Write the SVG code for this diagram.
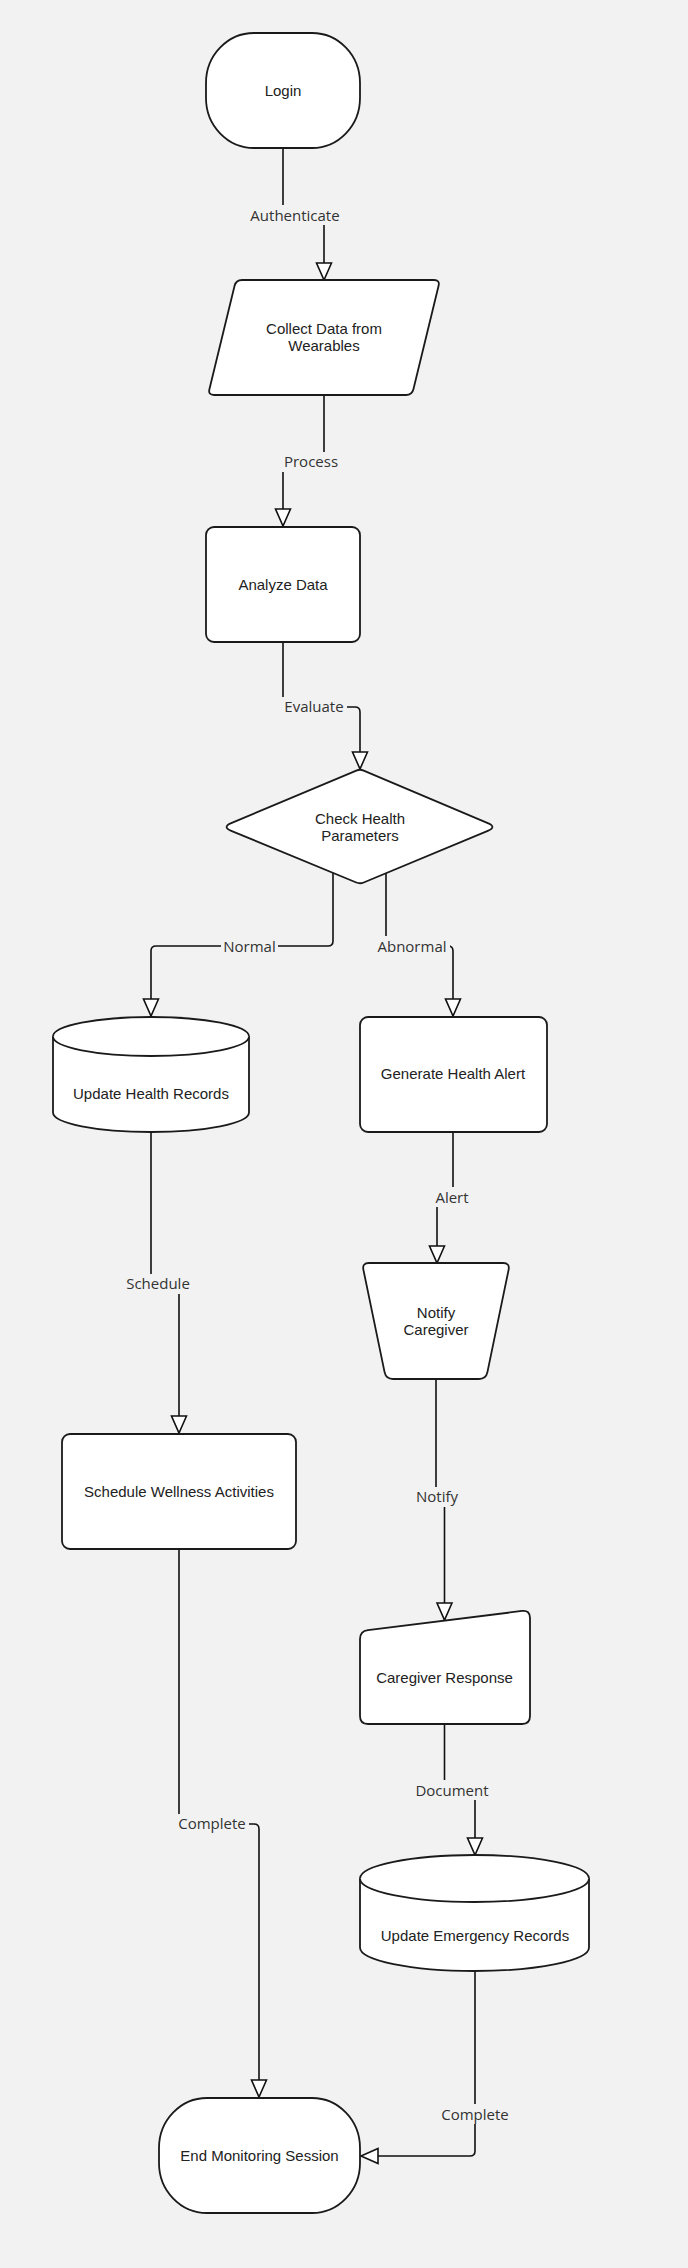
<svg xmlns="http://www.w3.org/2000/svg" width="688" height="2268" viewBox="0 0 688 2268">
<style>
.node{fill:#ffffff;stroke:#1a1a1a;stroke-width:1.8}
.nt{font-family:"Liberation Sans",Arial,sans-serif;font-size:15px;fill:#222;text-anchor:middle}
.edge{fill:none;stroke:#111;stroke-width:1.6}
.lbg{fill:#f2f2f2;stroke:none}
.lt{font-family:"Open Sans",sans-serif;font-size:15px;fill:#333;text-anchor:middle}
</style>
<defs>
<marker id="arr" markerUnits="userSpaceOnUse" markerWidth="20" markerHeight="18" refX="17" refY="7.5" orient="auto" overflow="visible">
<path d="M0,0 L17,7.5 L0,15 Z" fill="#ffffff" stroke="#111" stroke-width="1.6" stroke-linejoin="miter"/>
</marker>
</defs>
<rect x="0" y="0" width="688" height="2268" fill="#f2f2f2"/>

<g id="connectors">
<path class="edge" d="M283,148 V215 H324 V280" marker-end="url(#arr)"/>
<path class="edge" d="M324,395 V462 H283 V526" marker-end="url(#arr)"/>
<path class="edge" d="M283,642 V707 H355 Q360,707 360,712 V769" marker-end="url(#arr)"/>
<path class="edge" d="M333,873 V941 Q333,946 328,946 H156 Q151,946 151,951 V1016" marker-end="url(#arr)"/>
<path class="edge" d="M386,873 V946 H448 Q453,946 453,951 V1016" marker-end="url(#arr)"/>
<path class="edge" d="M453,1132 V1197 H437 V1263" marker-end="url(#arr)"/>
<path class="edge" d="M151,1132 V1284 H179 V1433" marker-end="url(#arr)"/>
<path class="edge" d="M436,1379 V1497 H444.5 V1620" marker-end="url(#arr)"/>
<path class="edge" d="M444.5,1724 V1790 H475 V1855" marker-end="url(#arr)"/>
<path class="edge" d="M179,1549 V1824 H254 Q259,1824 259,1829 V2097" marker-end="url(#arr)"/>
<path class="edge" d="M475,1971 V2151 Q475,2156 470,2156 H361" marker-end="url(#arr)"/>

<rect class="lbg" x="249" y="205" width="93" height="20"/>
<text class="lt" x="295" y="221">Authenticate</text>
<rect class="lbg" x="282" y="452" width="58" height="20"/>
<text class="lt" x="311" y="467">Process</text>
<rect class="lbg" x="282" y="697" width="65" height="20"/>
<text class="lt" x="314" y="712">Evaluate</text>
<rect class="lbg" x="221" y="936" width="57" height="20"/>
<text class="lt" x="249.5" y="952">Normal</text>
<rect class="lbg" x="375" y="936" width="75" height="20"/>
<text class="lt" x="412" y="952">Abnormal</text>
<rect class="lbg" x="432" y="1187" width="40" height="20"/>
<text class="lt" x="452" y="1203">Alert</text>
<rect class="lbg" x="123" y="1274" width="70" height="20"/>
<text class="lt" x="158" y="1289">Schedule</text>
<rect class="lbg" x="413" y="1487" width="48" height="20"/>
<text class="lt" x="437" y="1502">Notify</text>
<rect class="lbg" x="413" y="1780" width="78" height="20"/>
<text class="lt" x="452" y="1796">Document</text>
<rect class="lbg" x="176" y="1814" width="73" height="20"/>
<text class="lt" x="212" y="1829">Complete</text>
<rect class="lbg" x="439" y="2104" width="72" height="20"/>
<text class="lt" x="475" y="2120">Complete</text>
</g>

<g id="login">
<rect class="node" x="206" y="33" width="154" height="115" rx="48" ry="50"/>
<text class="nt" x="283" y="96">Login</text>
</g>

<g id="collect">
<path class="node" d="M242,280 H434 Q440,280 438.58,285.83 L413.42,389.17 Q412,395 406,395 H214 Q208,395 209.42,389.17 L234.58,285.83 Q236,280 242,280 Z"/>
<text class="nt" x="324" y="334">Collect Data from</text>
<text class="nt" x="324" y="351">Wearables</text>
</g>

<g id="analyze">
<rect class="node" x="206" y="527" width="154" height="115" rx="8"/>
<text class="nt" x="283" y="590">Analyze Data</text>
</g>

<g id="check">
<path class="node" d="M363.68,770.56 L487.79,823.10 Q497,827 487.77,830.84 L363.69,882.46 Q360,884 356.30,882.47 L231.24,830.82 Q222,827 231.22,823.13 L356.31,770.55 Q360,769 363.68,770.56 Z"/>
<text class="nt" x="360" y="824">Check Health</text>
<text class="nt" x="360" y="841">Parameters</text>
</g>

<g id="update-health">
<path class="node" d="M53,1036.5 A98,19.5 0 0 1 249,1036.5 V1112.5 A98,19.5 0 0 1 53,1112.5 Z"/>
<path class="node" fill="none" d="M53,1036.5 A98,19.5 0 0 0 249,1036.5"/>
<text class="nt" x="151" y="1099">Update Health Records</text>
</g>

<g id="alert">
<rect class="node" x="360" y="1017" width="187" height="115" rx="8"/>
<text class="nt" x="453" y="1079">Generate Health Alert</text>
</g>

<g id="notify">
<path class="node" d="M369,1263 H503 Q510,1263 508.58,1269.85 L487.42,1372.15 Q486,1379 479,1379 H393 Q386,1379 384.58,1372.15 L363.42,1269.85 Q362,1263 369,1263 Z"/>
<text class="nt" x="436" y="1318">Notify</text>
<text class="nt" x="436" y="1335">Caregiver</text>
</g>

<g id="schedule">
<rect class="node" x="62" y="1434" width="234" height="115" rx="8"/>
<text class="nt" x="179" y="1497">Schedule Wellness Activities</text>
</g>

<g id="response">
<path class="node" d="M367.94,1630.02 L522.06,1610.98 Q530,1610 530,1618 V1716 Q530,1724 522,1724 H368 Q360,1724 360,1716 V1639 Q360,1631 367.94,1630.02 Z"/>
<text class="nt" x="444.5" y="1683">Caregiver Response</text>
</g>

<g id="update-emergency">
<path class="node" d="M360,1878.5 A114.5,23.5 0 0 1 589,1878.5 V1947.5 A114.5,23.5 0 0 1 360,1947.5 Z"/>
<path class="node" fill="none" d="M360,1878.5 A114.5,23.5 0 0 0 589,1878.5"/>
<text class="nt" x="475" y="1941">Update Emergency Records</text>
</g>

<g id="end">
<rect class="node" x="159" y="2098" width="201" height="115" rx="48" ry="50"/>
<text class="nt" x="259.5" y="2161">End Monitoring Session</text>
</g>
</svg>
